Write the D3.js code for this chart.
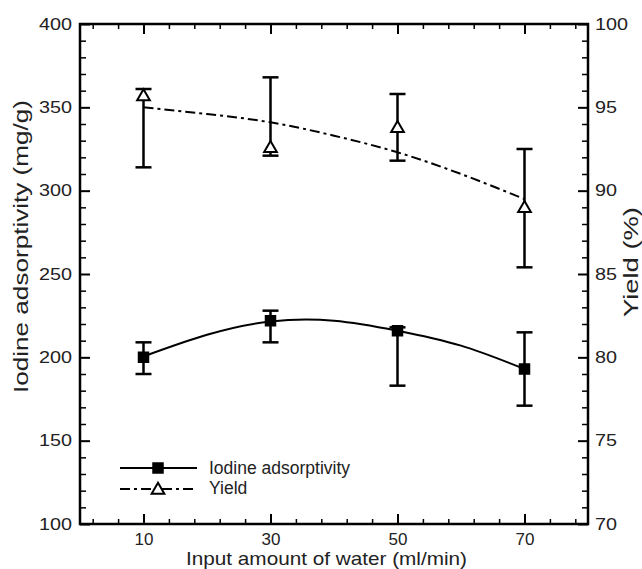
<!DOCTYPE html>
<html>
<head>
<meta charset="utf-8">
<script src="https://cdn.jsdelivr.net/npm/d3@7"></script>
<style>
  html, body { margin: 0; padding: 0; background: #fff; }
  svg { display: block; }
  text { font-family: "Liberation Sans", Arial, Helvetica, sans-serif; fill: #222; }
</style>
</head>
<body>
<svg id="chart" width="642" height="569"></svg>
<script>
// ---- data ----
const waterInput   = [10, 30, 50, 70];
const iodine       = [200, 222, 216, 193];
const iodineUpper  = [209, 228, 218, 215];
const iodineLower  = [190, 209, 183, 171];
const yieldPct     = [95.7, 92.6, 93.8, 89.0];
const yieldUpper   = [96.1, 96.8, 95.8, 92.5];
const yieldLower   = [91.4, 92.1, 91.8, 85.4];
// fitted trend lines
const fitX         = [10, 20, 30, 40, 50, 60, 70];
const iodineFit    = [200.5, 213.5, 221.5, 222, 216, 207, 193];
const yieldFit     = [95.0, 94.6, 94.1, 93.3, 92.3, 91.0, 89.5];
// ticks
const xMajorTicks  = [10, 30, 50, 70];
const xMinorTicks  = [2, 6, 14, 18, 22, 26, 34, 38, 42, 46, 54, 58, 62, 66, 74, 78];
const yLeftTicks   = [100, 150, 200, 250, 300, 350, 400];
const yRightTicks  = [70, 75, 80, 85, 90, 95, 100];
const legendLabels = ["Iodine adsorptivity", "Yield"];

const svg = d3.select("#chart");
const L = 80, R = 588, T = 24, B = 524;
const SX = 1.2; // horizontal stretch of the y tick labels

const x  = d3.scaleLinear().domain([0, 80]).range([L, R]);
const yL = d3.scaleLinear().domain([100, 400]).range([B, T]);
const yR = d3.scaleLinear().domain([70, 100]).range([B, T]);

const yLeftMinor  = d3.range(100, 401, 10).filter(v => !yLeftTicks.includes(v));
const yRightMinor = d3.range(70, 101, 1).filter(v => !yRightTicks.includes(v));

function styleAxis(g, fontSize) {
  g.select(".domain").remove();
  g.selectAll(".tick line").attr("stroke", "#000").attr("stroke-width", 2);
  g.selectAll(".tick text").attr("font-size", fontSize).attr("fill", "#222")
    .style("font-family", '"Liberation Sans", Arial, sans-serif');
}
function stretchLabels(g) {
  g.selectAll(".tick text").each(function () {
    const t = d3.select(this);
    const xv = +t.attr("x");
    t.attr("x", xv / SX).attr("transform", `scale(${SX},1)`);
  });
}

// bottom
svg.append("g").attr("transform", `translate(0,${B})`)
  .call(d3.axisBottom(x).tickValues(xMajorTicks).tickSizeInner(-10).tickSizeOuter(0).tickPadding(9).tickFormat(d3.format("d")))
  .call(g => styleAxis(g, 17));
svg.append("g").attr("transform", `translate(0,${B})`)
  .call(d3.axisBottom(x).tickValues(xMinorTicks).tickSizeInner(-5).tickSizeOuter(0).tickFormat(""))
  .call(g => { styleAxis(g, 0); g.selectAll(".tick line").attr("stroke-width", 1.5); });
// top
svg.append("g").attr("transform", `translate(0,${T})`)
  .call(d3.axisTop(x).tickValues(xMajorTicks).tickSizeInner(-10).tickSizeOuter(0).tickFormat(""))
  .call(g => styleAxis(g, 0));
svg.append("g").attr("transform", `translate(0,${T})`)
  .call(d3.axisTop(x).tickValues(xMinorTicks).tickSizeInner(-5).tickSizeOuter(0).tickFormat(""))
  .call(g => { styleAxis(g, 0); g.selectAll(".tick line").attr("stroke-width", 1.5); });
// left
svg.append("g").attr("transform", `translate(${L},0)`)
  .call(d3.axisLeft(yL).tickValues(yLeftTicks).tickSizeInner(-10).tickSizeOuter(0).tickPadding(8).tickFormat(d3.format("d")))
  .call(g => { styleAxis(g, 16.5); stretchLabels(g); });
svg.append("g").attr("transform", `translate(${L},0)`)
  .call(d3.axisLeft(yL).tickValues(yLeftMinor).tickSizeInner(-6).tickSizeOuter(0).tickFormat(""))
  .call(g => { styleAxis(g, 0); g.selectAll(".tick line").attr("stroke-width", 1.5); });
// right
svg.append("g").attr("transform", `translate(${R},0)`)
  .call(d3.axisRight(yR).tickValues(yRightTicks).tickSizeInner(-10).tickSizeOuter(0).tickPadding(7).tickFormat(d3.format("d")))
  .call(g => { styleAxis(g, 16.5); stretchLabels(g); });
svg.append("g").attr("transform", `translate(${R},0)`)
  .call(d3.axisRight(yR).tickValues(yRightMinor).tickSizeInner(-6).tickSizeOuter(0).tickFormat(""))
  .call(g => { styleAxis(g, 0); g.selectAll(".tick line").attr("stroke-width", 1.5); });

// frame
svg.append("rect").attr("x", L).attr("y", T).attr("width", R - L).attr("height", B - T)
  .attr("fill", "none").attr("stroke", "#000").attr("stroke-width", 2.5);

// axis titles
svg.append("text").attr("x", 326.5).attr("y", 565).attr("text-anchor", "middle")
  .attr("font-size", 19).attr("textLength", 281).attr("lengthAdjust", "spacingAndGlyphs")
  .text("Input amount of water (ml/min)");
svg.append("text").attr("transform", "translate(28,246.5) rotate(-90)").attr("text-anchor", "middle")
  .attr("font-size", 19.5).attr("textLength", 293).attr("lengthAdjust", "spacingAndGlyphs")
  .text("Iodine adsorptivity (mg/g)");
svg.append("text").attr("transform", "translate(638,262) rotate(-90)").attr("text-anchor", "middle")
  .attr("font-size", 19.5).attr("textLength", 110).attr("lengthAdjust", "spacingAndGlyphs")
  .text("Yield (%)");

// fit lines
const lineL = d3.line().x((d, i) => x(fitX[i])).y(d => yL(d)).curve(d3.curveNatural);
const lineR = d3.line().x((d, i) => x(fitX[i])).y(d => yR(d)).curve(d3.curveNatural);
svg.append("path").attr("d", lineL(iodineFit)).attr("fill", "none").attr("stroke", "#000").attr("stroke-width", 2);
svg.append("path").attr("d", lineR(yieldFit)).attr("fill", "none").attr("stroke", "#000").attr("stroke-width", 2)
  .attr("stroke-dasharray", "10,4,3,4");

// error bars
function errorBars(vals, up, lo, y) {
  const g = svg.append("g").attr("stroke", "#000").attr("stroke-width", 2.5);
  waterInput.forEach((xv, i) => {
    g.append("line").attr("x1", x(xv)).attr("x2", x(xv)).attr("y1", y(up[i])).attr("y2", y(lo[i]));
    g.append("line").attr("x1", x(xv) - 8).attr("x2", x(xv) + 8).attr("y1", y(up[i])).attr("y2", y(up[i]));
    g.append("line").attr("x1", x(xv) - 8).attr("x2", x(xv) + 8).attr("y1", y(lo[i])).attr("y2", y(lo[i]));
  });
}
errorBars(iodine, iodineUpper, iodineLower, yL);
errorBars(yieldPct, yieldUpper, yieldLower, yR);

// markers
const sq = d3.symbol().type(d3.symbolSquare).size(100);
const tri = d3.symbol().type(d3.symbolTriangle).size(70);
svg.append("g").selectAll("path").data(iodine).join("path")
  .attr("d", sq).attr("transform", (d, i) => `translate(${x(waterInput[i])},${yL(d)})`)
  .attr("fill", "#000").attr("stroke", "#000").attr("stroke-width", 1.5);
svg.append("g").selectAll("path").data(yieldPct).join("path")
  .attr("d", tri).attr("transform", (d, i) => `translate(${x(waterInput[i])},${yR(d) + 1})`)
  .attr("fill", "#fff").attr("stroke", "#000").attr("stroke-width", 2);

// legend
const lg = svg.append("g");
const ly = [468, 489];
lg.append("line").attr("x1", 120).attr("x2", 197).attr("y1", ly[0]).attr("y2", ly[0]).attr("stroke", "#000").attr("stroke-width", 2);
lg.append("line").attr("x1", 120).attr("x2", 197).attr("y1", ly[1]).attr("y2", ly[1]).attr("stroke", "#000").attr("stroke-width", 2)
  .attr("stroke-dasharray", "10,4,3,4");
lg.append("path").attr("d", sq).attr("transform", `translate(158,${ly[0]})`).attr("fill", "#000").attr("stroke", "#000").attr("stroke-width", 1.5);
lg.append("path").attr("d", tri).attr("transform", `translate(158,${ly[1] + 1})`).attr("fill", "#fff").attr("stroke", "#000").attr("stroke-width", 2);
const legendBase = [474, 494];
legendLabels.forEach((t, i) => {
  lg.append("text").attr("x", 209).attr("y", legendBase[i]).attr("font-size", 17.5).text(t);
});
</script>
</body>
</html>
